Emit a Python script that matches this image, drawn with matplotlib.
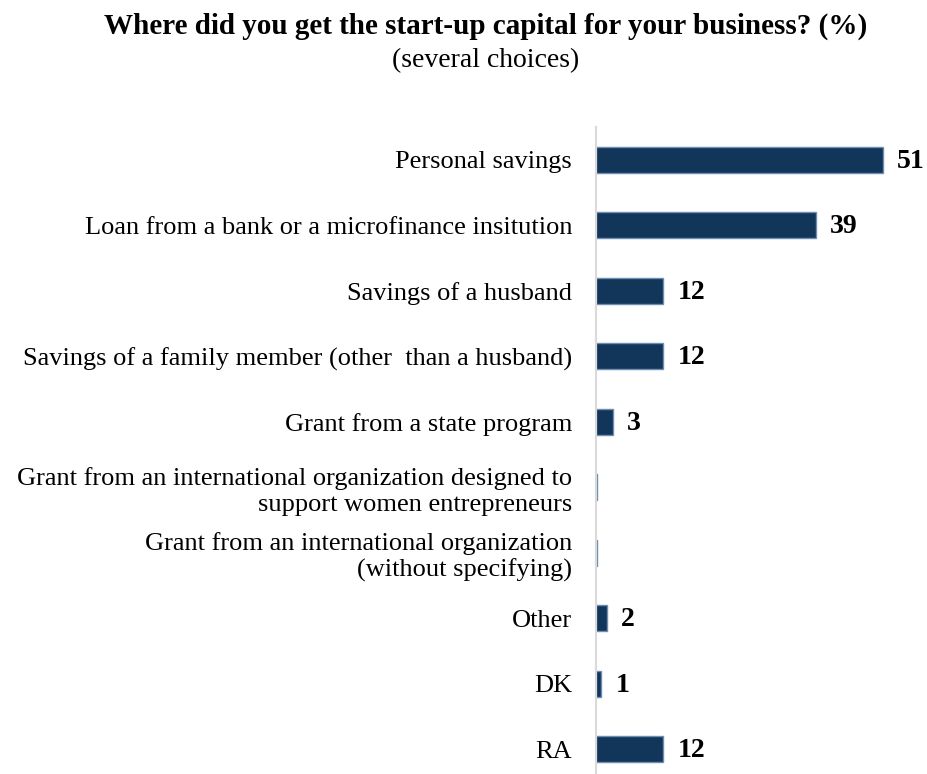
import matplotlib
matplotlib.use("Agg")
import matplotlib.pyplot as plt

# survey answers, top to bottom
categories = [
    "Personal savings",
    "Loan from a bank or a microfinance insitution",
    "Savings of a husband",
    "Savings of a family member (other  than a husband)",
    "Grant from a state program",
    "Grant from an international organization designed to\nsupport women entrepreneurs",
    "Grant from an international organization\n(without specifying)",
    "Other",
    "DK",
    "RA",
]
values = [51, 39, 12, 12, 3, 0.3, 0.3, 2, 1, 12]
value_labels = ["51", "39", "12", "12", "3", "", "", "2", "1", "12"]

BAR = "#12355a"
EDGE = "#6f8db0"

plt.rcParams["font.family"] = ["Liberation Serif", "DejaVu Serif"]

fig = plt.figure(figsize=(9.28, 7.74), dpi=100)
ax = fig.add_axes([0.642, 0.0, 0.34, 0.836])

y = list(range(len(categories)))
ax.barh(y, values, height=0.4, color=BAR, edgecolor=EDGE, linewidth=1.0)

for yi, v, lab in zip(y, values, value_labels):
    if lab:
        ax.annotate(lab, (v, yi), xytext=(10, -1), textcoords="offset points",
                    ha="left", va="center", fontsize=20, fontweight="bold")

ax.set_xlim(0, 56)
ax.set_ylim(9.38, -0.5)
ax.set_yticks(y)
ax.set_yticklabels(categories, fontsize=19, linespacing=1.2)
ax.tick_params(axis="y", length=0, pad=17)
ax.set_xticks([])
for side in ["top", "right", "bottom"]:
    ax.spines[side].set_visible(False)
ax.spines["left"].set_color("#d9d9d9")
ax.spines["left"].set_linewidth(1.5)

fig.text(0.523, 0.966, "Where did you get the start-up capital for your business? (%)",
         ha="center", va="center", fontsize=21, fontweight="bold")
fig.text(0.523, 0.922, "(several choices)", ha="center", va="center", fontsize=20)

fig.savefig("out.png", dpi=100)
